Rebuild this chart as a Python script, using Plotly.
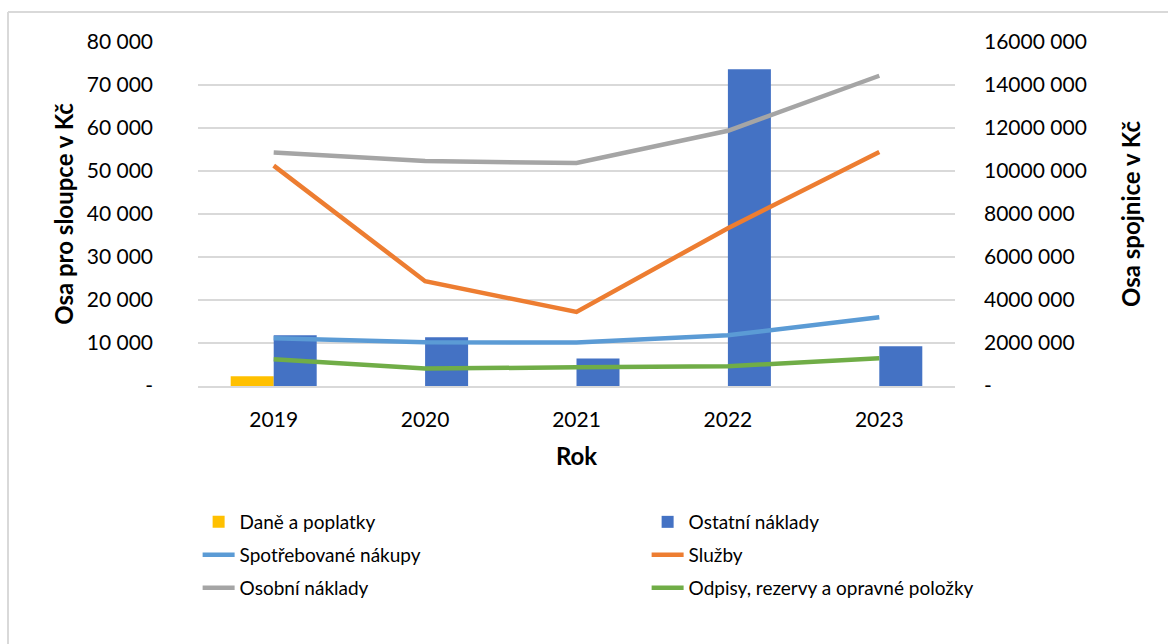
import plotly.graph_objects as go

years = ["2019", "2020", "2021", "2022", "2023"]

# Bars (left axis, Kč)
dane_a_poplatky = [2250, None, None, None, None]
ostatni_naklady = [11800, 11330, 6380, 73650, 9240]

# Lines (right axis, Kč)
spotrebovane_nakupy = [2220000, 2035000, 2020000, 2360000, 3200000]
sluzby = [10250000, 4875000, 3445000, 7340000, 10880000]
osobni_naklady = [10866000, 10460000, 10370000, 11870000, 14430000]
odpisy = [1243000, 810000, 870000, 917000, 1290000]

left_tickvals = [0, 10000, 20000, 30000, 40000, 50000, 60000, 70000, 80000]
left_ticktext = ["-", "10 000", "20 000", "30 000", "40 000", "50 000", "60 000", "70 000", "80 000"]
right_tickvals = [0, 2000000, 4000000, 6000000, 8000000, 10000000, 12000000, 14000000, 16000000]
right_ticktext = ["-", "2000 000", "4000 000", "6000 000", "8000 000", "10000 000", "12000 000", "14000 000", "16000 000"]

FONT = "Lato"
TICK = 21
TITLE = 24
fig = go.Figure()

fig.add_trace(go.Bar(x=years, y=dane_a_poplatky, name="Daně a poplatky",
                     marker=dict(color="#FFC000", line=dict(width=0)), legend="legend"))
fig.add_trace(go.Bar(x=years, y=ostatni_naklady, name="Ostatní náklady",
                     marker=dict(color="#4472C4", line=dict(width=0)), legend="legend"))

line_series = [
    ("Spotřebované nákupy", spotrebovane_nakupy, "#5B9BD5", "legend2"),
    ("Služby", sluzby, "#ED7D31", "legend2"),
    ("Osobní náklady", osobni_naklady, "#A5A5A5", "legend3"),
    ("Odpisy, rezervy a opravné položky", odpisy, "#70AD47", "legend3"),
]
for name, vals, col, lg in line_series:
    fig.add_trace(go.Scatter(x=years, y=vals, name=name, mode="lines", yaxis="y2",
                             line=dict(color=col, width=4.5), legend=lg))

leg_common = dict(orientation="h", entrywidth=402, entrywidthmode="pixels",
                  xanchor="left", yanchor="middle", x=-0.0005, itemwidth=32,
                  font=dict(family=FONT, size=19, color="#000000"),
                  bgcolor="rgba(0,0,0,0)", traceorder="normal")

fig.update_layout(
    width=1168, height=644,
    margin=dict(l=198, r=213, t=42, b=258),
    paper_bgcolor="white", plot_bgcolor="white",
    barmode="group", bargap=0.432, bargroupgap=0,
    font=dict(family=FONT, size=19, color="#000000"),
    xaxis=dict(type="category", showgrid=False, showline=True, linecolor="#D9D9D9", linewidth=1.5,
               ticks="", tickfont=dict(family=FONT, size=TICK), ticklabelstandoff=14,
               title=dict(text="<b>Rok</b>", font=dict(family=FONT, size=TITLE), standoff=18)),
    yaxis=dict(range=[0, 80000], tickvals=left_tickvals, ticktext=left_ticktext,
               showgrid=True, gridcolor="#D9D9D9", gridwidth=1.5, zeroline=False,
               ticks="", ticklabelstandoff=44, tickfont=dict(family=FONT, size=TICK),
               title=dict(text="<b>Osa pro sloupce v Kč</b>", font=dict(family=FONT, size=TITLE), standoff=6)),
    yaxis2=dict(range=[0, 16000000], tickvals=right_tickvals, ticktext=right_ticktext,
                overlaying="y", side="right", showgrid=False, zeroline=False,
                ticks="", ticklabelstandoff=28, tickfont=dict(family=FONT, size=TICK),
                title=dict(text="<b>Osa spojnice v Kč</b>", font=dict(family=FONT, size=TITLE), standoff=37)),
    legend=dict(y=(386 - 522) / 344, **leg_common),
    legend2=dict(y=(386 - 555) / 344, **leg_common),
    legend3=dict(y=(386 - 588) / 344, **leg_common),
    showlegend=True,
)

# chart frame (visible left and top edges)
fig.add_shape(type="line", xref="paper", yref="paper",
              x0=(8 - 198) / 757, x1=(8 - 198) / 757, y0=(386 - 12) / 344, y1=(386 - 660) / 344,
              line=dict(color="#D9D9D9", width=2))
fig.add_shape(type="line", xref="paper", yref="paper",
              x0=(8 - 198) / 757, x1=(1180 - 198) / 757, y0=(386 - 12) / 344, y1=(386 - 12) / 344,
              line=dict(color="#D9D9D9", width=2))

fig.write_html("out.html")
